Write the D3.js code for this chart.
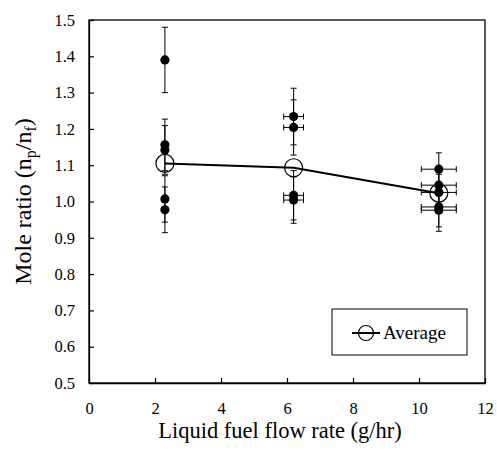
<!DOCTYPE html>
<html>
<head>
<meta charset="utf-8">
<script src="https://cdn.jsdelivr.net/npm/d3@7"></script>
<style>
  html, body { margin: 0; padding: 0; background: #fff; }
  svg text { font-family: "Liberation Serif", "Times New Roman", serif !important; fill: #000; }
</style>
</head>
<body>
<svg id="chart" width="497" height="464" font-family="Liberation Serif"></svg>
<script>
// Flow-rate groups (g/hr) and horizontal uncertainty of each group
const flowRates = [2.3, 6.2, 10.6];
const flowErr = [0, 0.3, 0.53];

// Individual mole-ratio measurements per flow rate, with vertical error
const ratioRuns = [
  [1.39, 1.156, 1.142, 1.007, 0.977],
  [1.234, 1.204, 1.017, 1.004],
  [1.089, 1.045, 1.025, 0.985, 0.976]
];
const ratioErr = [
  [0.09, 0.071, 0.067, 0.064, 0.063],
  [0.078, 0.076, 0.068, 0.064],
  [0.045, 0.05, 0.05, 0.055, 0.058]
];

// Group averages
const averages = [1.105, 1.093, 1.023];

// Axis ticks
const xTicks = [0, 2, 4, 6, 8, 10, 12];
const yTicks = [0.5, 0.6, 0.7, 0.8, 0.9, 1.0, 1.1, 1.2, 1.3, 1.4, 1.5];

const margin = { left: 89, right: 12, top: 20, bottom: 81 };
const W = 497, H = 464;
const svg = d3.select("#chart");
const serif = "'Liberation Serif', 'Times New Roman', serif";

const x = d3.scaleLinear().domain([0, 12]).range([margin.left, W - margin.right]);
const y = d3.scaleLinear().domain([0.5, 1.5]).range([H - margin.bottom, margin.top]);

// Frame
svg.append("rect")
  .attr("x", x(0)).attr("y", y(1.5))
  .attr("width", x(12) - x(0)).attr("height", y(0.5) - y(1.5))
  .attr("fill", "none").attr("stroke", "#000").attr("stroke-width", 1.3);

// Axes with inward ticks
const xAxis = svg.append("g")
  .attr("transform", `translate(0,${y(0.5)})`)
  .call(d3.axisBottom(x).tickValues(xTicks).tickSizeInner(-5).tickSizeOuter(0).tickPadding(19).tickFormat(d3.format("d")));
const yAxis = svg.append("g")
  .attr("transform", `translate(${x(0)},0)`)
  .call(d3.axisLeft(y).tickValues(yTicks).tickSizeInner(-5).tickSizeOuter(0).tickPadding(14).tickFormat(d3.format(".1f")));
[xAxis, yAxis].forEach(g => {
  g.attr("font-family", serif);
  g.select(".domain").attr("stroke", "#000").attr("stroke-width", 1.3);
  g.selectAll(".tick line").attr("stroke", "#000").attr("stroke-width", 1.2);
  g.selectAll(".tick text").attr("font-size", 16.5).style("font-family", serif);
});

// Axis titles
svg.append("text")
  .attr("x", 280).attr("y", H - 26)
  .attr("text-anchor", "middle").attr("font-size", 22.5).style("font-family", serif)
  .text("Liquid fuel flow rate (g/hr)");

const yt = svg.append("text")
  .attr("transform", `translate(31,${(y(0.5) + y(1.5)) / 2}) rotate(-90)`)
  .attr("text-anchor", "middle").attr("font-size", 24).style("font-family", serif);
yt.append("tspan").text("Mole ratio (n");
yt.append("tspan").attr("font-size", 16).attr("dy", 5).text("p");
yt.append("tspan").attr("dy", -5).text("/n");
yt.append("tspan").attr("font-size", 16).attr("dy", 5).text("f");
yt.append("tspan").attr("dy", -5).text(")");

// Flatten measurements
const points = [];
flowRates.forEach((fr, i) => {
  ratioRuns[i].forEach((v, j) => {
    points.push({ fx: fr, fe: flowErr[i], v, e: ratioErr[i][j] });
  });
});

const cap = 3;
const bars = svg.append("g").attr("stroke", "#000").attr("stroke-width", 1);
points.forEach(p => {
  // vertical error bar
  bars.append("line").attr("x1", x(p.fx)).attr("x2", x(p.fx)).attr("y1", y(p.v - p.e)).attr("y2", y(p.v + p.e));
  [p.v - p.e, p.v + p.e].forEach(t => {
    bars.append("line").attr("x1", x(p.fx) - cap).attr("x2", x(p.fx) + cap).attr("y1", y(t)).attr("y2", y(t));
  });
  // horizontal error bar
  if (p.fe > 0) {
    bars.append("line").attr("x1", x(p.fx - p.fe)).attr("x2", x(p.fx + p.fe)).attr("y1", y(p.v)).attr("y2", y(p.v));
    [p.fx - p.fe, p.fx + p.fe].forEach(t => {
      bars.append("line").attr("x1", x(t)).attr("x2", x(t)).attr("y1", y(p.v) - cap).attr("y2", y(p.v) + cap);
    });
  }
});

// Measurement markers
svg.append("g").selectAll("circle").data(points).join("circle")
  .attr("cx", d => x(d.fx)).attr("cy", d => y(d.v)).attr("r", 4.6).attr("fill", "#000");

// Average line with open markers
const avgData = flowRates.map((fr, i) => ({ fx: fr, v: averages[i] }));
svg.append("path").datum(avgData)
  .attr("fill", "none").attr("stroke", "#000").attr("stroke-width", 2)
  .attr("d", d3.line().x(d => x(d.fx)).y(d => y(d.v)));
svg.append("g").selectAll("circle").data(avgData).join("circle")
  .attr("cx", d => x(d.fx)).attr("cy", d => y(d.v)).attr("r", 9)
  .attr("fill", "none").attr("stroke", "#000").attr("stroke-width", 1.2);

// Legend
const lg = svg.append("g").attr("transform", "translate(332,309)");
lg.append("rect").attr("width", 135).attr("height", 46)
  .attr("fill", "#fff").attr("stroke", "#000").attr("stroke-width", 1);
lg.append("line").attr("x1", 20).attr("x2", 48).attr("y1", 24).attr("y2", 24)
  .attr("stroke", "#000").attr("stroke-width", 2);
lg.append("circle").attr("cx", 34).attr("cy", 24).attr("r", 7.5)
  .attr("fill", "none").attr("stroke", "#000").attr("stroke-width", 1.2);
lg.append("text").attr("x", 51).attr("y", 30).attr("font-size", 19).style("font-family", serif).text("Average");
</script>
</body>
</html>
